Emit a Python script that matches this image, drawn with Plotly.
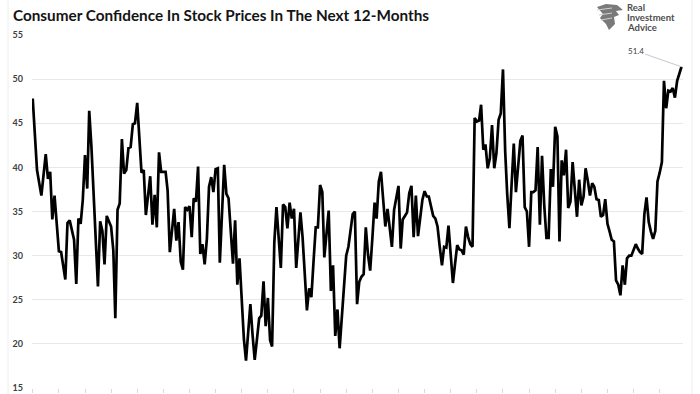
import pandas as pd
import plotly.graph_objects as go

# months since Jan 2000 (monthly series)
month_index = [
    0, 2, 4, 6, 7, 8, 9, 10, 12, 13, 15, 16, 17, 19, 20, 21, 22, 23, 24, 25, 26, 27,
    30, 31, 32, 33, 34, 36, 37, 38, 39, 40, 41, 42, 43, 44, 45, 46, 47, 48,
    50, 51, 52, 54, 55, 56, 57, 58, 59, 61, 62, 63, 65, 66, 67, 68, 69, 70, 71, 72,
    73, 74, 75, 76, 77, 78, 79, 80, 81, 82, 83, 84, 85, 86, 88, 89, 90, 92, 93, 94,
    95, 96, 97, 98, 99, 100, 101, 102, 103, 104, 105, 106, 107, 108, 109, 110,
    111, 112, 113, 114, 115, 116, 117, 118, 119, 120, 121, 122, 123, 124, 125,
    126, 127, 128, 129, 130, 131, 132, 133, 134, 135, 136, 137, 138, 139, 140,
    141, 142, 143, 144, 145, 146, 147, 148, 149, 150, 151, 152, 153, 154, 155,
    156, 157, 158, 159, 160, 161, 162, 163, 164, 165, 166, 167, 168, 169, 170,
    171, 172, 173, 174, 175, 176, 177, 178, 179, 180, 181, 182, 183, 184, 185,
    186, 187, 188, 189, 190, 191, 192, 193, 194, 195, 196, 197, 198, 199, 200,
    201, 202, 203, 204, 205, 206, 207, 208, 209, 210, 211, 212, 213, 214, 215,
    216, 217, 218, 219, 220, 221, 222, 223, 224, 225, 226, 227, 228, 229, 230,
    231, 232, 233, 234, 235, 236, 237, 238, 239, 240, 241, 242, 243, 244, 245,
    246, 247, 248, 249, 250, 251, 252, 253, 254, 255, 256, 257, 258, 259, 260,
    261, 262, 263, 264, 265, 266, 267, 268, 269, 270, 271, 272, 273, 274, 275,
    276, 277, 278, 279, 280, 281, 282, 283, 284, 285, 286, 287, 288, 289, 290,
    291, 292, 293, 294, 295, 296, 298,
]

confidence = [
    47.8, 39.7, 36.8, 41.5, 38.7, 39.5, 34.1, 36.8, 30.5, 30.4, 27.3, 33.7, 34.0, 31.8, 26.8, 34.2, 33.6, 36.3, 41.4, 37.6, 46.4, 42.3,
    26.5, 33.9, 32.8, 29.0, 34.5, 33.3, 30.6, 22.9, 35.2, 35.9, 43.2, 39.3, 39.7, 42.2, 42.3, 44.9, 45.0, 47.3,
    39.4, 39.7, 34.6, 39.0, 33.5, 36.9, 33.2, 41.7, 39.5, 39.5, 37.4, 30.4, 35.3, 31.7, 33.8, 29.3, 28.4, 35.5, 35.2, 35.6,
    32.1, 36.5, 36.1, 40.1, 30.2, 31.3, 29.0, 31.9, 37.8, 38.9, 37.2, 39.8, 39.9, 29.2, 40.3, 37.0, 36.5, 29.1, 34.0, 26.7,
    29.7, 25.0, 20.5, 18.1, 21.5, 24.5, 21.0, 18.2, 20.5, 22.9, 23.2, 27.1, 22.0, 25.2, 20.4, 19.7,
    31.5, 35.5, 32.0, 28.6, 35.8, 35.5, 33.1, 36.0, 34.2, 35.3, 28.6, 31.8, 34.9, 32.1, 28.0,
    23.8, 26.3, 25.3, 29.3, 33.2, 33.2, 38.0, 37.2, 29.8, 32.5, 35.1, 26.0, 28.9, 20.9, 23.9,
    19.5, 23.4, 26.8, 30.0, 31.0, 33.0, 34.7, 35.0, 24.5, 27.0, 27.6, 27.9, 33.2, 30.1, 28.3,
    32.0, 36.0, 34.2, 38.4, 39.5, 36.3, 33.3, 35.3, 33.2, 31.0, 35.2, 36.5, 37.9, 30.8, 34.1,
    34.5, 34.9, 37.1, 37.9, 32.1, 36.8, 32.2, 34.5, 36.3, 37.3, 36.7, 36.7, 35.5, 34.5, 34.2,
    33.3, 31.0, 28.9, 31.0, 30.9, 33.4, 30.0, 26.9, 29.0, 31.2, 30.7, 30.6, 30.1, 33.3, 32.1,
    31.3, 31.0, 45.6, 45.2, 45.3, 47.1, 42.0, 42.6, 39.9, 41.0, 44.8, 39.9, 41.6, 45.4, 46.1,
    51.1, 41.8, 37.0, 33.1, 38.0, 42.7, 37.2, 40.0, 43.0, 43.6, 35.5, 35.0, 31.0, 37.2, 37.2,
    37.4, 42.3, 33.5, 41.3, 35.7, 32.0, 32.0, 39.8, 37.8, 44.6, 43.5, 31.6, 40.8, 39.1, 42.0,
    35.4, 36.1, 40.6, 37.5, 34.4, 38.6, 35.7, 36.7, 39.9, 38.5, 36.8, 38.2, 37.8, 36.4, 36.3,
    34.4, 34.6, 36.4, 33.6, 32.7, 31.8, 31.6, 27.2, 26.7, 25.5, 28.9, 26.7, 29.7, 30.0, 30.0,
    30.6, 31.3, 30.8, 30.4, 30.2, 34.7, 36.6, 33.8, 32.7, 31.9, 32.8, 38.4, 39.4, 40.6, 49.8,
    46.7, 48.7, 48.6, 49.0, 47.9, 49.8, 51.4,
]

y_ticks = [15, 20, 25, 30, 35, 40, 45, 50, 55]
title_text = "Consumer Confidence In Stock Prices In The Next 12-Months"
last_label = "51.4"
logo_lines = ["Real", "Investment", "Advice"]

start = pd.Timestamp("2000-01-01")
dates = [start + pd.DateOffset(months=m) for m in month_index]
year_ticks = [pd.Timestamp(f"{y}-01-01") for y in range(2000, 2025)]

W, H = 700, 394
ML, MR, MT, MB = 32, 17, 35, 6
PW, PH = W - ML - MR, H - MT - MB


def px(x):
    return (x - ML) / PW


def py(y):
    return (H - MB - y) / PH


fig = go.Figure()
fig.add_trace(go.Scatter(
    x=dates, y=confidence, mode="lines",
    line=dict(color="#000000", width=2.7),
    hoverinfo="skip", showlegend=False,
))

fig.add_annotation(
    x=dates[-1], y=confidence[-1], text=last_label,
    showarrow=True, arrowhead=0, arrowwidth=1, arrowcolor="#c8c8c8",
    ax=-46, ay=-16, font=dict(family="Lato", size=8, color="#404040"),
)

fig.add_annotation(
    xref="paper", yref="paper", x=px(11), y=py(15), xanchor="left", yanchor="middle",
    text="<b>" + title_text + "</b>", showarrow=False,
    font=dict(family="Lato", size=15.3, color="#141414"),
)

for line_text, ly in zip(logo_lines, [7.5, 17.5, 27.5]):
    fig.add_annotation(
        xref="paper", yref="paper", x=px(626), y=py(ly), xanchor="left", yanchor="middle",
        text="<b>" + line_text + "</b>", showarrow=False, align="left", borderpad=0,
        font=dict(family="Lato", size=9.5, color="#4d4d4d"),
    )


def path(points):
    s = "M " + " L ".join(f"{px(a):.5f},{py(b):.5f}" for a, b in points) + " Z"
    return s


fig.add_shape(type="path", xref="paper", yref="paper",
              path=path([(597, 7), (606, 4), (617, 5), (623, 10), (616, 11), (619, 15),
                         (614, 17), (615, 24), (609, 30), (606, 24), (600, 18), (603, 14)]),
              fillcolor="#7a7a7a", line=dict(width=0))
for (a, b) in [(8, 10), (10, 15), (12, 20)]:
    fig.add_shape(type="line", xref="paper", yref="paper",
                  x0=px(597 + a - 8), y0=py(b), x1=px(612), y1=py(b - 2),
                  line=dict(color="#d0d0d0", width=1))

# faint chart frame
fig.add_shape(type="line", xref="paper", yref="paper", x0=px(8), x1=px(8), y0=py(0), y1=py(394),
              line=dict(color="#eeeeee", width=1))
fig.add_shape(type="line", xref="paper", yref="paper", x0=px(692), x1=px(692), y0=py(0), y1=py(394),
              line=dict(color="#eeeeee", width=1))

fig.update_layout(
    width=W, height=H,
    margin=dict(l=ML, r=MR, t=MT, b=MB, autoexpand=False),
    paper_bgcolor="white", plot_bgcolor="white",
    xaxis=dict(
        type="date", range=["1999-12-22", "2024-11-22"], automargin=False,
        tickvals=year_ticks, showticklabels=False, ticks="outside", ticklen=4,
        tickcolor="#d9d9d9", showgrid=False, showline=False, zeroline=False,
    ),
    yaxis=dict(
        range=[15, 55], tickvals=y_ticks, showgrid=True, gridcolor="#e8e8e8", gridwidth=1,
        zeroline=False, showline=False, ticks="", ticklabelstandoff=8, automargin=False,
        tickfont=dict(family="Lato", size=9, color="#404040", weight="bold"),
    ),
)

fig.write_html(
    "out.html",
    config={"displayModeBar": False},
    post_script="document.body.style.margin='0';document.body.style.overflow='hidden';",
)
